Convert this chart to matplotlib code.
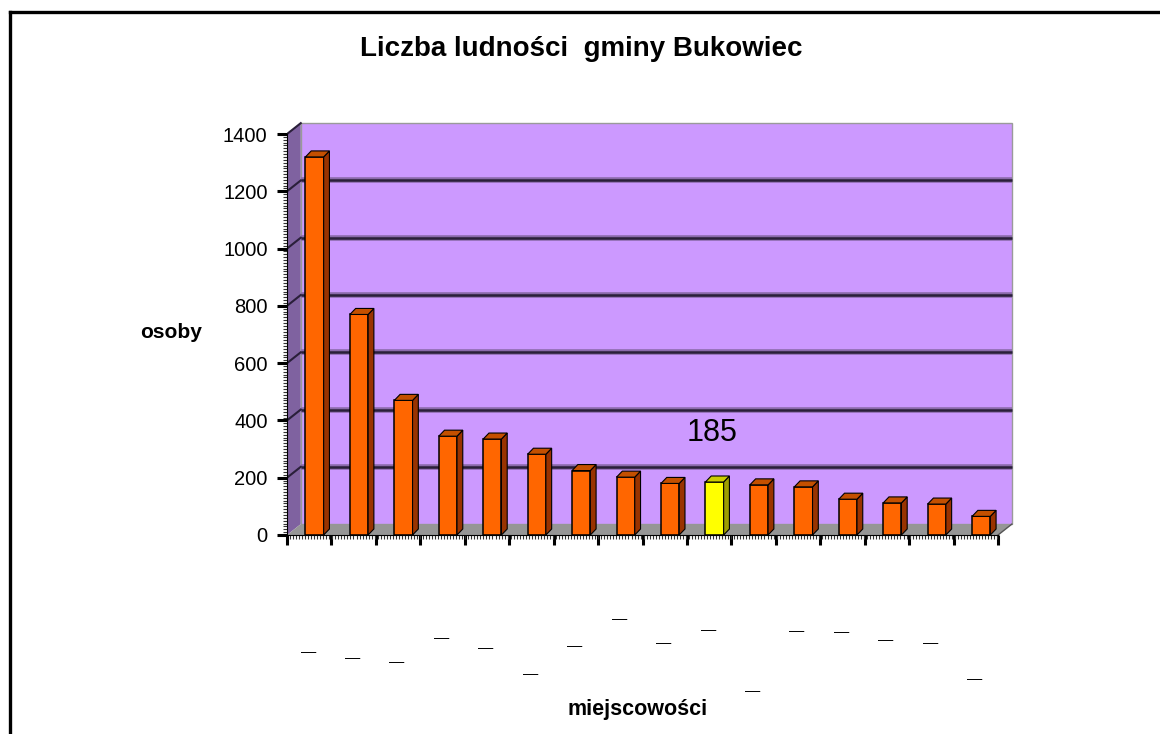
import matplotlib
matplotlib.use('Agg')
from matplotlib import pyplot as plt
from matplotlib.patches import Polygon, Rectangle
from matplotlib.lines import Line2D
from matplotlib.ticker import FixedLocator
import numpy as np

plt.rcParams['font.family'] = ['Liberation Sans', 'DejaVu Sans']

# data
values = [1320, 770, 470, 345, 335, 282, 225, 202, 180, 185, 175, 168, 125, 112, 108, 65]
highlight = 9
label_text = '185'
yticks = [0, 200, 400, 600, 800, 1000, 1200, 1400]

# pixel offsets of the cut-off category labels below the axis
stub_drop = [117, 123, 127, 103, 113, 139, 111, 84, 108, 95, 156, 96, 97, 105, 108, 144]

n = len(values)
Dx, Dy = 0.31, 38          # depth of the wall / floor
bx, by = 0.13, 21          # depth of one bar
w = 0.41
shift = 0.12

fig = plt.figure(figsize=(11.6, 7.34), dpi=100)
ax = fig.add_axes([0.24741, 0.27112, 0.63216, 0.5658])
ax.set_xlim(-0.5, 16.0)
ax.set_ylim(0, 1450)
ax.set_facecolor('none')

# walls and floor
ax.add_patch(Polygon([(-0.5, 0), (-0.5 + Dx, Dy), (-0.5 + Dx, 1400 + Dy), (-0.5, 1400)],
                     closed=True, facecolor='#7F62A0', edgecolor='none', zorder=0))
ax.add_patch(Rectangle((-0.5 + Dx, Dy), n, 1400, facecolor='#CC99FF',
                       edgecolor='#9a9a9a', lw=1, zorder=0))
ax.add_patch(Polygon([(-0.5, 0), (n - 0.5, 0), (n - 0.5 + Dx, Dy), (-0.5 + Dx, Dy)],
                     closed=True, facecolor='#969696', edgecolor='none', zorder=0))
ax.plot([n - 0.5, n - 0.5 + Dx], [0, Dy], color='#555555', lw=1, zorder=1)
for v in yticks[1:-1]:
    ax.plot([-0.5 + Dx, n - 0.5 + Dx], [v + Dy, v + Dy], color='#8a6aaa', lw=4, zorder=1,
            solid_capstyle='butt')
    ax.plot([-0.5 + Dx, n - 0.5 + Dx], [v + Dy, v + Dy], color='#2a1f3a', lw=1.8, zorder=1,
            solid_capstyle='butt')
for v in yticks[1:]:
    ax.plot([-0.5, -0.5 + Dx], [v, v + Dy], color='#2a1f3a', lw=1.5, zorder=1)

# bars
xs = [i + shift for i in range(n)]
front = ['#FFFF00' if i == highlight else '#FF6600' for i in range(n)]
side = ['#9E9E00' if i == highlight else '#993300' for i in range(n)]
top = ['#CCCC00' if i == highlight else '#C45000' for i in range(n)]
ax.bar(xs, values, width=w, color=front, edgecolor='black', lw=1.1, zorder=3)
for x, v, cs, ct in zip(xs, values, side, top):
    r = x + w / 2
    l = x - w / 2
    ax.add_patch(Polygon([(r, 0), (r + bx, by), (r + bx, v + by), (r, v)], closed=True,
                         facecolor=cs, edgecolor='black', lw=0.8, zorder=3))
    ax.add_patch(Polygon([(l, v), (l + bx, v + by), (r + bx, v + by), (r, v)], closed=True,
                         facecolor=ct, edgecolor='black', lw=0.8, zorder=3))

ax.annotate(label_text, xy=(xs[highlight], values[highlight]), xytext=(-2, 49),
            textcoords='offset pixels', ha='center', va='center', fontsize=22, zorder=5)

# cut-off category labels
for i, off in enumerate(stub_drop):
    ax.annotate('\u2014', xy=(i, 0), xytext=(-1, -off), textcoords='offset pixels',
                ha='center', va='center', fontsize=11, annotation_clip=False)

# axes
for s in ['top', 'right']:
    ax.spines[s].set_visible(False)
ax.spines['bottom'].set_bounds(-0.5, n - 0.5)
ax.spines['left'].set_bounds(0, 1400)
ax.spines['bottom'].set_zorder(4)
ax.set_xticks([i - 0.5 for i in range(n + 1)])
ax.set_xticklabels([])
ax.xaxis.set_minor_locator(FixedLocator(np.arange(-0.5, n - 0.5, 0.068)))
ax.set_yticks(yticks)
ax.yaxis.set_minor_locator(FixedLocator(np.arange(0, 1401, 10)))
ax.tick_params(axis='both', which='major', direction='out', length=7, width=2.2,
               labelsize=14.5, color='black')
ax.tick_params(axis='both', which='minor', direction='out', length=3, width=0.8,
               color='#333333')
ax.tick_params(axis='y', pad=7)

# texts
fig.text(581 / 1160, 1 - 49 / 734, 'Liczba ludności  gminy Bukowiec', ha='center',
         va='center', fontsize=20, fontweight='bold')
fig.text(171 / 1160, 1 - 333 / 734, 'osoby', ha='center', va='center', fontsize=15,
         fontweight='bold')
fig.text(638 / 1160, 1 - 709 / 734, 'miejscowości', ha='center', va='center',
         fontsize=15.5, fontweight='bold')

# frame
fy = 1 - 12 / 734
fx = 10 / 1160
fig.add_artist(Line2D([fx, fx], [0, fy], color='black', lw=2.4, transform=fig.transFigure))
fig.add_artist(Line2D([fx, 1], [fy, fy], color='black', lw=2.4, transform=fig.transFigure))

fig.savefig('out.png', dpi=100)
